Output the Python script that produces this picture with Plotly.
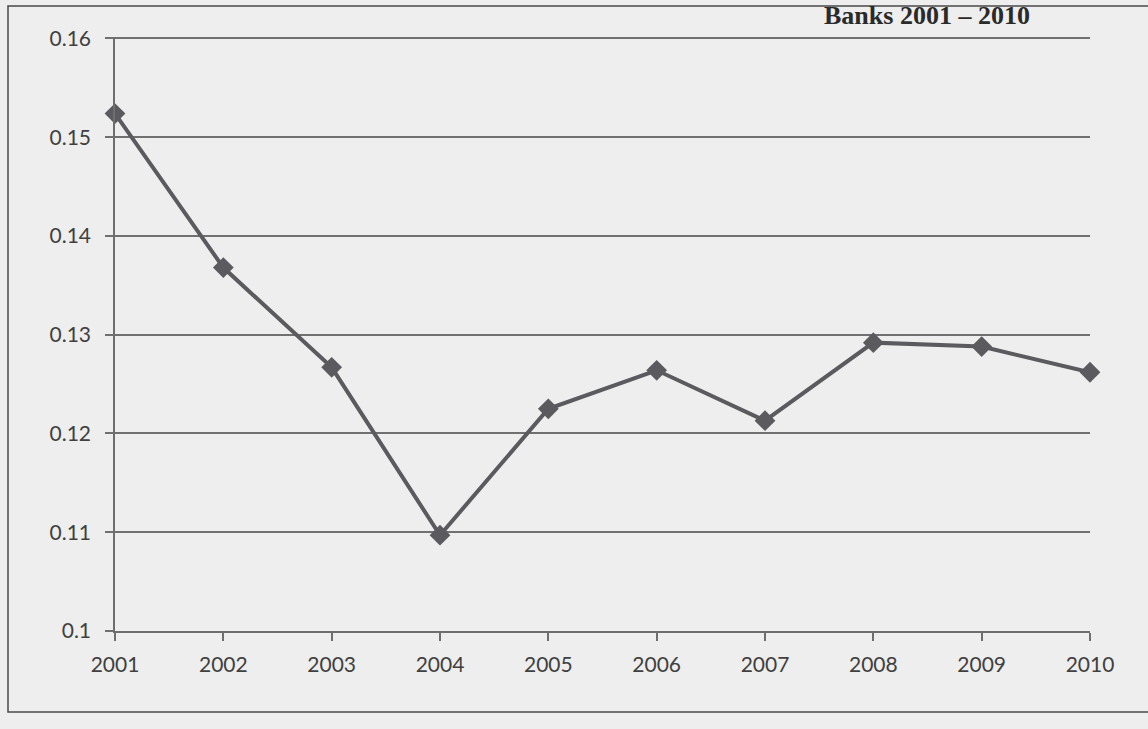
import plotly.graph_objects as go

years = [2001, 2002, 2003, 2004, 2005, 2006, 2007, 2008, 2009, 2010]
values = [0.1524, 0.1368, 0.1267, 0.1097, 0.1225, 0.1264, 0.1213, 0.1292, 0.1288, 0.1262]
y_ticks = [0.10, 0.11, 0.12, 0.13, 0.14, 0.15, 0.16]
y_tick_labels = ["0.1", "0.11", "0.12", "0.13", "0.14", "0.15", "0.16"]
title_text = "Banks 2001 \u2013 2010"

W, H = 1148, 729
L, R, T, B = 115, 58, 37, 98
pw, ph = W - L - R, H - T - B

def px_x(p):
    return (p - L) / pw

def px_y(p):
    return (H - B - p) / ph

fig = go.Figure()
fig.add_trace(go.Scatter(
    x=years, y=values, mode="lines+markers",
    line=dict(color="#5b5a5e", width=4),
    marker=dict(symbol="diamond", size=16, color="#5b5a5e"),
    cliponaxis=False, showlegend=False,
))

axis_font = dict(family="Lato, Open Sans, sans-serif", size=21, color="#404040")
fig.update_layout(
    width=W, height=H,
    margin=dict(l=L, r=R, t=T, b=B),
    paper_bgcolor="#eeeeee", plot_bgcolor="#eeeeee",
    xaxis=dict(
        range=[2001, 2010], tickmode="array", tickvals=years,
        ticktext=[str(y) for y in years], showgrid=False,
        showline=True, linecolor="#6e6e6e", linewidth=1.5,
        ticks="outside", ticklen=8, tickcolor="#6e6e6e", tickwidth=1.5,
        tickfont=axis_font, zeroline=False, ticklabelstandoff=6,
    ),
    yaxis=dict(
        range=[0.10, 0.16015], tickmode="array", tickvals=y_ticks,
        ticktext=y_tick_labels, showgrid=True, gridcolor="#707070", gridwidth=1.5,
        showline=True, linecolor="#6e6e6e", linewidth=1.5,
        ticks="outside", ticklen=8, tickcolor="#707070", tickwidth=1.5,
        tickfont=axis_font, zeroline=False, ticklabelstandoff=10,
    ),
)

# outer chart frame
fig.add_shape(type="rect", xref="paper", yref="paper",
              x0=px_x(8), x1=px_x(1160), y0=px_y(712), y1=px_y(6),
              line=dict(color="#4a4a4a", width=1.5), fillcolor="rgba(0,0,0,0)", layer="below")

fig.add_annotation(
    text="<b>" + title_text + "</b>", xref="paper", yref="paper",
    x=px_x(1032), y=1, xanchor="right", yanchor="bottom", yshift=5,
    showarrow=False, font=dict(family="Liberation Serif, serif", size=26, color="#2a2a2a"),
)

fig.write_html("out.html")
